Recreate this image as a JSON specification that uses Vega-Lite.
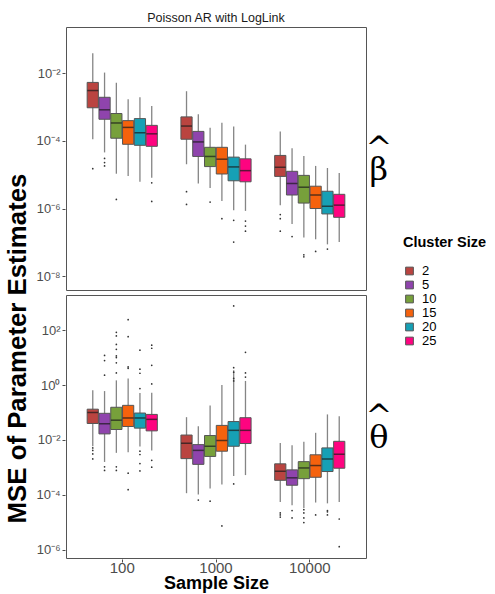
{
  "$schema": "https://vega.github.io/schema/vega-lite/v6.json",
  "background": "white",
  "padding": {"left": 5, "top": 11, "right": 0, "bottom": 0},
  "title": {"text": "MSE of Parameter Estimates", "orient": "left", "anchor": "middle", "fontSize": 25.8, "fontWeight": "bold", "color": "#000000", "font": "Liberation Sans", "offset": 4, "dx": -46.5},
  "config": {
    "font": "Liberation Sans",
    "view": {"stroke": "#555555", "strokeWidth": 1},
    "axis": {"grid": false, "domain": false, "ticks": true, "tickSize": 3, "tickColor": "#4d4d4d", "labelColor": "#4d4d4d", "labelFont": "Liberation Sans"}
  },
  "datasets": {
    "beta": [
      {"m": "Poisson AR with LogLink", "p": "β̂", "n": 100, "c": 2, "lo": 1.12e-4, "q1": 9.55e-4, "md": 3.09e-3, "q3": 5.37e-3, "hi": 3.9e-2},
      {"m": "Poisson AR with LogLink", "p": "β̂", "n": 100, "c": 5, "lo": 4.57e-5, "q1": 4.37e-4, "md": 8.32e-4, "q3": 1.95e-3, "hi": 1.05e-2},
      {"m": "Poisson AR with LogLink", "p": "β̂", "n": 100, "c": 10, "lo": 1.07e-5, "q1": 1.2e-4, "md": 3.39e-4, "q3": 6.46e-4, "hi": 5.25e-3},
      {"m": "Poisson AR with LogLink", "p": "β̂", "n": 100, "c": 15, "lo": 9.12e-6, "q1": 7.94e-5, "md": 2.51e-4, "q3": 3.98e-4, "hi": 1.7e-3},
      {"m": "Poisson AR with LogLink", "p": "β̂", "n": 100, "c": 20, "lo": 6.17e-6, "q1": 7.41e-5, "md": 1.74e-4, "q3": 4.57e-4, "hi": 1.95e-3},
      {"m": "Poisson AR with LogLink", "p": "β̂", "n": 100, "c": 25, "lo": 8.13e-6, "q1": 6.92e-5, "md": 1.62e-4, "q3": 2.88e-4, "hi": 1.07e-3},
      {"m": "Poisson AR with LogLink", "p": "β̂", "n": 1000, "c": 2, "lo": 2.04e-5, "q1": 1.12e-4, "md": 2.75e-4, "q3": 5.13e-4, "hi": 2.95e-3},
      {"m": "Poisson AR with LogLink", "p": "β̂", "n": 1000, "c": 5, "lo": 5.5e-6, "q1": 3.47e-5, "md": 9.33e-5, "q3": 1.91e-4, "hi": 6.17e-4},
      {"m": "Poisson AR with LogLink", "p": "β̂", "n": 1000, "c": 10, "lo": 4.07e-6, "q1": 1.74e-5, "md": 3.47e-5, "q3": 6.46e-5, "hi": 2.45e-4},
      {"m": "Poisson AR with LogLink", "p": "β̂", "n": 1000, "c": 15, "lo": 1.66e-6, "q1": 1.05e-5, "md": 2.88e-5, "q3": 6.46e-5, "hi": 3.47e-4},
      {"m": "Poisson AR with LogLink", "p": "β̂", "n": 1000, "c": 20, "lo": 8.91e-7, "q1": 6.61e-6, "md": 1.7e-5, "q3": 3.31e-5, "hi": 2.69e-4},
      {"m": "Poisson AR with LogLink", "p": "β̂", "n": 1000, "c": 25, "lo": 8.51e-7, "q1": 6.17e-6, "md": 1.32e-5, "q3": 2.95e-5, "hi": 7.76e-5},
      {"m": "Poisson AR with LogLink", "p": "β̂", "n": 10000, "c": 2, "lo": 1.26e-6, "q1": 8.91e-6, "md": 1.66e-5, "q3": 3.72e-5, "hi": 1.91e-4},
      {"m": "Poisson AR with LogLink", "p": "β̂", "n": 10000, "c": 5, "lo": 3.47e-7, "q1": 2.51e-6, "md": 5.5e-6, "q3": 1.26e-5, "hi": 6.03e-5},
      {"m": "Poisson AR with LogLink", "p": "β̂", "n": 10000, "c": 10, "lo": 1.38e-7, "q1": 1.45e-6, "md": 4.27e-6, "q3": 9.55e-6, "hi": 3.55e-5},
      {"m": "Poisson AR with LogLink", "p": "β̂", "n": 10000, "c": 15, "lo": 1.23e-7, "q1": 1.0e-6, "md": 2.51e-6, "q3": 4.57e-6, "hi": 1.82e-5},
      {"m": "Poisson AR with LogLink", "p": "β̂", "n": 10000, "c": 20, "lo": 8.71e-8, "q1": 6.92e-7, "md": 1.17e-6, "q3": 3.24e-6, "hi": 1.58e-5},
      {"m": "Poisson AR with LogLink", "p": "β̂", "n": 10000, "c": 25, "lo": 1.02e-7, "q1": 5.5e-7, "md": 1.26e-6, "q3": 2.63e-6, "hi": 1.12e-5},
      {"m": "Poisson AR with LogLink", "p": "β̂", "n": 100, "c": 2, "v": 1.51e-5},
      {"m": "Poisson AR with LogLink", "p": "β̂", "n": 100, "c": 5, "v": 3.02e-5},
      {"m": "Poisson AR with LogLink", "p": "β̂", "n": 100, "c": 5, "v": 2.29e-5},
      {"m": "Poisson AR with LogLink", "p": "β̂", "n": 100, "c": 5, "v": 1.82e-5},
      {"m": "Poisson AR with LogLink", "p": "β̂", "n": 100, "c": 10, "v": 1.86e-6},
      {"m": "Poisson AR with LogLink", "p": "β̂", "n": 100, "c": 25, "v": 5.75e-6},
      {"m": "Poisson AR with LogLink", "p": "β̂", "n": 100, "c": 25, "v": 1.62e-6},
      {"m": "Poisson AR with LogLink", "p": "β̂", "n": 1000, "c": 2, "v": 3.16e-6},
      {"m": "Poisson AR with LogLink", "p": "β̂", "n": 1000, "c": 2, "v": 1.32e-6},
      {"m": "Poisson AR with LogLink", "p": "β̂", "n": 1000, "c": 10, "v": 1.55e-6},
      {"m": "Poisson AR with LogLink", "p": "β̂", "n": 1000, "c": 15, "v": 5.01e-7},
      {"m": "Poisson AR with LogLink", "p": "β̂", "n": 1000, "c": 20, "v": 4.47e-7},
      {"m": "Poisson AR with LogLink", "p": "β̂", "n": 1000, "c": 20, "v": 1.02e-7},
      {"m": "Poisson AR with LogLink", "p": "β̂", "n": 1000, "c": 25, "v": 4.27e-7},
      {"m": "Poisson AR with LogLink", "p": "β̂", "n": 1000, "c": 25, "v": 3.02e-7},
      {"m": "Poisson AR with LogLink", "p": "β̂", "n": 1000, "c": 25, "v": 2.14e-7},
      {"m": "Poisson AR with LogLink", "p": "β̂", "n": 10000, "c": 2, "v": 6.61e-7},
      {"m": "Poisson AR with LogLink", "p": "β̂", "n": 10000, "c": 2, "v": 5.01e-7},
      {"m": "Poisson AR with LogLink", "p": "β̂", "n": 10000, "c": 2, "v": 2.14e-7},
      {"m": "Poisson AR with LogLink", "p": "β̂", "n": 10000, "c": 5, "v": 1.48e-7},
      {"m": "Poisson AR with LogLink", "p": "β̂", "n": 10000, "c": 10, "v": 4.27e-8},
      {"m": "Poisson AR with LogLink", "p": "β̂", "n": 10000, "c": 10, "v": 3.72e-8},
      {"m": "Poisson AR with LogLink", "p": "β̂", "n": 10000, "c": 15, "v": 5.37e-8},
      {"m": "Poisson AR with LogLink", "p": "β̂", "n": 10000, "c": 20, "v": 6.31e-8}
    ],
    "theta": [
      {"p": "θ̂", "n": 100, "c": 2, "lo": 5.89e-3, "q1": 3.98e-2, "md": 1.0e-1, "q3": 1.32e-1, "hi": 6.46e-1},
      {"p": "θ̂", "n": 100, "c": 5, "lo": 1.58e-3, "q1": 1.66e-2, "md": 3.89e-2, "q3": 9.33e-2, "hi": 6.03e-1},
      {"p": "θ̂", "n": 100, "c": 10, "lo": 3.39e-3, "q1": 2.4e-2, "md": 5.25e-2, "q3": 1.55e-1, "hi": 1.48},
      {"p": "θ̂", "n": 100, "c": 15, "lo": 3.55e-3, "q1": 3.09e-2, "md": 6.31e-2, "q3": 1.82e-1, "hi": 1.74},
      {"p": "θ̂", "n": 100, "c": 20, "lo": 5.75e-3, "q1": 2.69e-2, "md": 6.31e-2, "q3": 9.55e-2, "hi": 5.13e-1},
      {"p": "θ̂", "n": 100, "c": 25, "lo": 4.17e-3, "q1": 2.14e-2, "md": 5.62e-2, "q3": 8.51e-2, "hi": 5.25e-1},
      {"p": "θ̂", "n": 1000, "c": 2, "lo": 1.15e-4, "q1": 2.09e-3, "md": 7.59e-3, "q3": 1.51e-2, "hi": 6.76e-2},
      {"p": "θ̂", "n": 1000, "c": 5, "lo": 1.02e-4, "q1": 1.29e-3, "md": 4.17e-3, "q3": 6.76e-3, "hi": 3.16e-2},
      {"p": "θ̂", "n": 1000, "c": 10, "lo": 1.7e-4, "q1": 2.51e-3, "md": 5.89e-3, "q3": 1.45e-2, "hi": 1.78e-1},
      {"p": "θ̂", "n": 1000, "c": 15, "lo": 2.4e-4, "q1": 3.89e-3, "md": 9.55e-3, "q3": 3.39e-2, "hi": 1.0},
      {"p": "θ̂", "n": 1000, "c": 20, "lo": 4.9e-4, "q1": 5.89e-3, "md": 2.24e-2, "q3": 4.68e-2, "hi": 3.47},
      {"p": "θ̂", "n": 1000, "c": 25, "lo": 5.25e-4, "q1": 7.41e-3, "md": 2.24e-2, "q3": 6.46e-2, "hi": 1.41},
      {"p": "θ̂", "n": 10000, "c": 2, "lo": 5.5e-5, "q1": 3.39e-4, "md": 7.24e-4, "q3": 1.35e-3, "hi": 7.76e-3},
      {"p": "θ̂", "n": 10000, "c": 5, "lo": 4.17e-5, "q1": 2.24e-4, "md": 4.17e-4, "q3": 8.13e-4, "hi": 6.46e-3},
      {"p": "θ̂", "n": 10000, "c": 10, "lo": 3.31e-5, "q1": 3.89e-4, "md": 9.55e-4, "q3": 1.62e-3, "hi": 8.51e-3},
      {"p": "θ̂", "n": 10000, "c": 15, "lo": 5.25e-5, "q1": 4.37e-4, "md": 1.17e-3, "q3": 2.88e-3, "hi": 1.82e-2},
      {"p": "θ̂", "n": 10000, "c": 20, "lo": 4.9e-5, "q1": 7.08e-4, "md": 2.04e-3, "q3": 5.13e-3, "hi": 8.51e-2},
      {"p": "θ̂", "n": 10000, "c": 25, "lo": 5.5e-5, "q1": 9.33e-4, "md": 3.02e-3, "q3": 8.91e-3, "hi": 7.24e-2},
      {"p": "θ̂", "n": 100, "c": 2, "v": 5.13e-3},
      {"p": "θ̂", "n": 100, "c": 2, "v": 4.17e-3},
      {"p": "θ̂", "n": 100, "c": 2, "v": 3.09e-3},
      {"p": "θ̂", "n": 100, "c": 2, "v": 2.04e-3},
      {"p": "θ̂", "n": 100, "c": 5, "v": 12.0},
      {"p": "θ̂", "n": 100, "c": 5, "v": 7.76},
      {"p": "θ̂", "n": 100, "c": 5, "v": 2.29},
      {"p": "θ̂", "n": 100, "c": 5, "v": 1.05e-3},
      {"p": "θ̂", "n": 100, "c": 5, "v": 7.76e-4},
      {"p": "θ̂", "n": 100, "c": 10, "v": 83.2},
      {"p": "θ̂", "n": 100, "c": 10, "v": 61.7},
      {"p": "θ̂", "n": 100, "c": 10, "v": 30.2},
      {"p": "θ̂", "n": 100, "c": 10, "v": 20.0},
      {"p": "θ̂", "n": 100, "c": 10, "v": 11.5},
      {"p": "θ̂", "n": 100, "c": 10, "v": 10.0},
      {"p": "θ̂", "n": 100, "c": 10, "v": 6.46},
      {"p": "θ̂", "n": 100, "c": 10, "v": 2.75},
      {"p": "θ̂", "n": 100, "c": 10, "v": 1.05e-3},
      {"p": "θ̂", "n": 100, "c": 10, "v": 7.76e-4},
      {"p": "θ̂", "n": 100, "c": 15, "v": 240},
      {"p": "θ̂", "n": 100, "c": 15, "v": 57.5},
      {"p": "θ̂", "n": 100, "c": 15, "v": 4.57},
      {"p": "θ̂", "n": 100, "c": 15, "v": 4.07},
      {"p": "θ̂", "n": 100, "c": 15, "v": 6.17e-4},
      {"p": "θ̂", "n": 100, "c": 15, "v": 1.55e-4},
      {"p": "θ̂", "n": 100, "c": 20, "v": 18.6},
      {"p": "θ̂", "n": 100, "c": 20, "v": 3.8},
      {"p": "θ̂", "n": 100, "c": 20, "v": 2.69},
      {"p": "θ̂", "n": 100, "c": 20, "v": 0.741},
      {"p": "θ̂", "n": 100, "c": 20, "v": 3.89e-3},
      {"p": "θ̂", "n": 100, "c": 20, "v": 2.95e-3},
      {"p": "θ̂", "n": 100, "c": 20, "v": 1.38e-3},
      {"p": "θ̂", "n": 100, "c": 20, "v": 7.41e-4},
      {"p": "θ̂", "n": 100, "c": 25, "v": 28.2},
      {"p": "θ̂", "n": 100, "c": 25, "v": 21.9},
      {"p": "θ̂", "n": 100, "c": 25, "v": 5.25},
      {"p": "θ̂", "n": 100, "c": 25, "v": 1.1},
      {"p": "θ̂", "n": 100, "c": 25, "v": 1.82e-3},
      {"p": "θ̂", "n": 100, "c": 25, "v": 1.02e-3},
      {"p": "θ̂", "n": 1000, "c": 5, "v": 6.46e-5},
      {"p": "θ̂", "n": 1000, "c": 10, "v": 5.89e-5},
      {"p": "θ̂", "n": 1000, "c": 15, "v": 7.41e-6},
      {"p": "θ̂", "n": 1000, "c": 20, "v": 759},
      {"p": "θ̂", "n": 1000, "c": 20, "v": 4.27},
      {"p": "θ̂", "n": 1000, "c": 20, "v": 2.95},
      {"p": "θ̂", "n": 1000, "c": 20, "v": 1.74},
      {"p": "θ̂", "n": 1000, "c": 20, "v": 1.41},
      {"p": "θ̂", "n": 1000, "c": 20, "v": 2.51e-4},
      {"p": "θ̂", "n": 1000, "c": 25, "v": 15.5},
      {"p": "θ̂", "n": 1000, "c": 25, "v": 2.75},
      {"p": "θ̂", "n": 1000, "c": 25, "v": 1.95},
      {"p": "θ̂", "n": 10000, "c": 2, "v": 2.19e-5},
      {"p": "θ̂", "n": 10000, "c": 2, "v": 1.86e-5},
      {"p": "θ̂", "n": 10000, "c": 2, "v": 1.55e-5},
      {"p": "θ̂", "n": 10000, "c": 5, "v": 2.69e-5},
      {"p": "θ̂", "n": 10000, "c": 5, "v": 1.45e-5},
      {"p": "θ̂", "n": 10000, "c": 10, "v": 2.88e-5},
      {"p": "θ̂", "n": 10000, "c": 10, "v": 2.19e-5},
      {"p": "θ̂", "n": 10000, "c": 10, "v": 1.45e-5},
      {"p": "θ̂", "n": 10000, "c": 10, "v": 9.77e-6},
      {"p": "θ̂", "n": 10000, "c": 15, "v": 1.86e-5},
      {"p": "θ̂", "n": 10000, "c": 20, "v": 2.69e-5},
      {"p": "θ̂", "n": 10000, "c": 20, "v": 2.4e-5},
      {"p": "θ̂", "n": 10000, "c": 20, "v": 1.86e-5},
      {"p": "θ̂", "n": 10000, "c": 25, "v": 1.32e-5},
      {"p": "θ̂", "n": 10000, "c": 25, "v": 1.29e-6}
    ]
  },
  "resolve": {"scale": {"y": "independent"}},
  "spacing": 3,
  "vconcat": [
    {
      "data": {"name": "beta"},
      "facet": {
        "column": {"field": "m", "type": "nominal", "header": {"title": null, "labelFontSize": 12.5, "labelColor": "#1a1a1a", "labelPadding": 2, "labelFont": "Liberation Sans"}},
        "row": {"field": "p", "type": "nominal", "header": {"title": null, "labelOrient": "right", "labelAngle": 0, "labelFont": "DejaVu Serif", "labelFontSize": 32, "labelLineHeight": 21.5, "labelPadding": -15, "labelAlign": "center", "labelBaseline": "alphabetic", "labelColor": "#000000", "labelExpr": "['^', replace(datum.value, '̂', '')]"}}
      },
      "spec": {
        "width": 300,
        "height": 263,
        "encoding": {
          "x": {"field": "n", "type": "ordinal", "scale": {"paddingInner": 0, "paddingOuter": 0.1}, "axis": null},
          "xOffset": {"field": "c", "type": "ordinal", "scale": {"paddingInner": 0.05, "paddingOuter": 1.05}}
        },
        "layer": [
          {
            "transform": [{"filter": "isValid(datum.md)"}],
            "mark": {"type": "rule", "color": "#858585", "strokeWidth": 1.3},
            "encoding": {
              "y": {"field": "lo", "type": "quantitative", "scale": {"type": "log", "domain": [3.89e-9, 0.234], "nice": false},
                "axis": {"title": null, "values": [1e-8, 1e-6, 1e-4, 1e-2], "labelFontSize": 13, "labelPadding": 2,
                  "labelExpr": "'10' + replace(replace(replace(replace(replace(replace('' + round(log(datum.value)/LN10), '-', '⁻'), '0', '⁰'), '2', '²'), '4', '⁴'), '6', '⁶'), '8', '⁸')"}},
              "y2": {"field": "hi"}
            }
          },
          {
            "transform": [{"filter": "isValid(datum.md)"}],
            "mark": {"type": "bar", "stroke": "#555555", "strokeWidth": 1},
            "encoding": {
              "y": {"field": "q1", "type": "quantitative"},
              "y2": {"field": "q3"},
              "color": {"field": "c", "type": "ordinal", "title": "Cluster Size",
                "scale": {"domain": [2, 5, 10, 15, 20, 25], "range": ["#BA4440", "#8F44AD", "#77A03B", "#F5620D", "#16A0B5", "#FE0480"]},
                "legend": {"orient": "none", "legendX": 337, "legendY": 209, "titleFontSize": 14.5, "titleFontWeight": "bold", "titleColor": "#000000", "labelFontSize": 13, "labelColor": "#000000", "symbolType": "square", "symbolSize": 60, "symbolStrokeColor": "#555555", "symbolStrokeWidth": 1, "rowPadding": 0, "labelOffset": 6, "titlePadding": 14}}
            }
          },
          {
            "transform": [{"filter": "isValid(datum.md)"}],
            "mark": {"type": "tick", "color": "#1a1a1a", "thickness": 1.5, "size": 11},
            "encoding": {"y": {"field": "md", "type": "quantitative"}}
          },
          {
            "transform": [{"filter": "isValid(datum.v)"}],
            "mark": {"type": "point", "filled": true, "size": 3, "color": "#333333", "opacity": 1},
            "encoding": {"y": {"field": "v", "type": "quantitative"}}
          }
        ]
      }
    },
    {
      "data": {"name": "theta"},
      "facet": {
        "row": {"field": "p", "type": "nominal", "header": {"title": null, "labelOrient": "right", "labelAngle": 0, "labelFont": "DejaVu Serif", "labelFontSize": 32, "labelLineHeight": 21.5, "labelPadding": -15, "labelAlign": "center", "labelBaseline": "alphabetic", "labelColor": "#000000", "labelExpr": "['^', replace(datum.value, '̂', '')]"}}
      },
      "spec": {
        "width": 300,
        "height": 263,
        "encoding": {
          "x": {"field": "n", "type": "ordinal", "scale": {"paddingInner": 0, "paddingOuter": 0.1},
            "axis": {"title": "Sample Size", "titleFontSize": 18, "titleFontWeight": "bold", "titleColor": "#000000", "labelFontSize": 15, "labelAngle": 0, "labelPadding": -1.5, "titlePadding": -1}},
          "xOffset": {"field": "c", "type": "ordinal", "scale": {"paddingInner": 0.05, "paddingOuter": 1.05}}
        },
        "layer": [
          {
            "transform": [{"filter": "isValid(datum.md)"}],
            "mark": {"type": "rule", "color": "#858585", "strokeWidth": 1.3},
            "encoding": {
              "y": {"field": "lo", "type": "quantitative", "scale": {"type": "log", "domain": [5.01e-7, 1905], "nice": false},
                "axis": {"title": null,
                  "values": [1e-6, 1e-4, 1e-2, 1, 100], "labelFontSize": 13, "labelPadding": 2,
                  "labelExpr": "'10' + replace(replace(replace(replace(replace(replace('' + round(log(datum.value)/LN10), '-', '⁻'), '0', '⁰'), '2', '²'), '4', '⁴'), '6', '⁶'), '8', '⁸')"}},
              "y2": {"field": "hi"}
            }
          },
          {
            "transform": [{"filter": "isValid(datum.md)"}],
            "mark": {"type": "bar", "stroke": "#555555", "strokeWidth": 1},
            "encoding": {
              "y": {"field": "q1", "type": "quantitative"},
              "y2": {"field": "q3"},
              "color": {"field": "c", "type": "ordinal", "title": "Cluster Size",
                "scale": {"domain": [2, 5, 10, 15, 20, 25], "range": ["#BA4440", "#8F44AD", "#77A03B", "#F5620D", "#16A0B5", "#FE0480"]}}
            }
          },
          {
            "transform": [{"filter": "isValid(datum.md)"}],
            "mark": {"type": "tick", "color": "#1a1a1a", "thickness": 1.5, "size": 11},
            "encoding": {"y": {"field": "md", "type": "quantitative"}}
          },
          {
            "transform": [{"filter": "isValid(datum.v)"}],
            "mark": {"type": "point", "filled": true, "size": 3, "color": "#333333", "opacity": 1},
            "encoding": {"y": {"field": "v", "type": "quantitative"}}
          }
        ]
      }
    }
  ]
}
